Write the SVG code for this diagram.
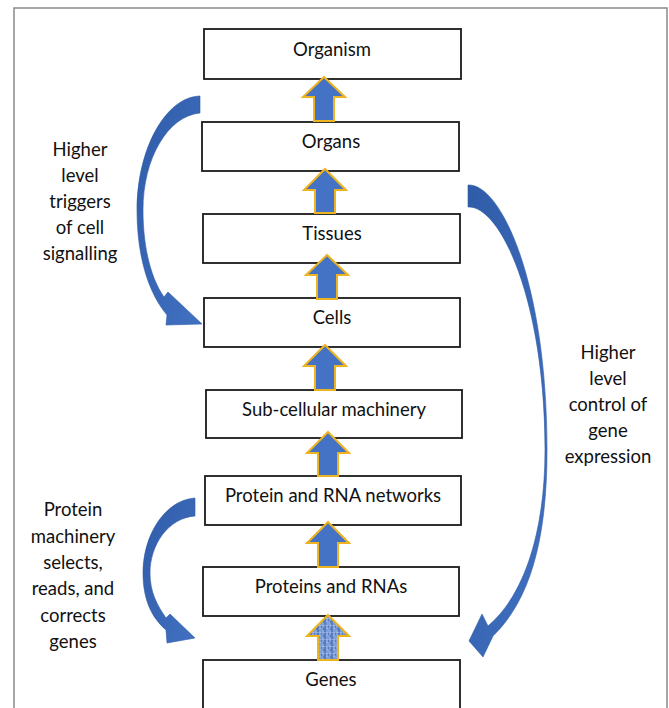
<svg xmlns="http://www.w3.org/2000/svg" width="669" height="708" viewBox="0 0 669 708">
<style>
  .box{fill:#ffffff;stroke:#1a1a1a;stroke-width:1.8}
  .lbl{font-family:Lato,"Liberation Sans",sans-serif;font-size:18.5px;fill:#111;text-anchor:middle}
  .up{fill:#4472C4;stroke:#EDB320;stroke-width:2;stroke-linejoin:miter}
  .curve{fill:url(#cg);stroke:#2E5AA6;stroke-width:0.6}
</style>
<defs>
  <linearGradient id="cg" x1="0" y1="0" x2="1" y2="1">
    <stop offset="0" stop-color="#2F5CA8"/>
    <stop offset="1" stop-color="#4271C2"/>
  </linearGradient>
  <pattern id="tex" patternUnits="userSpaceOnUse" width="7" height="7">
    <rect width="7" height="7" fill="#7E9ED8"/>
    <path d="M0,1 h4 M2,4 h5 M1,6 h3" stroke="#2F5CA8" stroke-width="1"/>
    <path d="M1,0 v3 M5,2 v4" stroke="#B8CAEE" stroke-width="1"/>
  </pattern>
</defs>
<rect x="0" y="0" width="669" height="708" fill="#ffffff"/>
<rect x="14" y="8" width="653" height="720" fill="none" stroke="#8a8a8a" stroke-width="1.5"/>

<g id="organism"><rect class="box" x="204" y="29" width="257" height="50"/><text class="lbl" x="332" y="56">Organism</text></g>
<g id="organs"><rect class="box" x="202" y="122" width="257" height="49"/><text class="lbl" x="331" y="148">Organs</text></g>
<g id="tissues"><rect class="box" x="203" y="214" width="257" height="49"/><text class="lbl" x="332" y="240">Tissues</text></g>
<g id="cells"><rect class="box" x="204" y="298" width="256" height="49"/><text class="lbl" x="332" y="324">Cells</text></g>
<g id="subcellular"><rect class="box" x="206" y="390" width="256" height="48"/><text class="lbl" x="334" y="416">Sub-cellular machinery</text></g>
<g id="networks"><rect class="box" x="205" y="476" width="256" height="49"/><text class="lbl" x="333" y="502">Protein and RNA networks</text></g>
<g id="proteins"><rect class="box" x="203" y="567" width="256" height="49"/><text class="lbl" x="331" y="593">Proteins and RNAs</text></g>
<g id="genes"><rect class="box" x="203" y="660" width="257" height="60"/><text class="lbl" x="331" y="686">Genes</text></g>

<g id="label-signalling">
  <text class="lbl" x="80" y="156">Higher</text>
  <text class="lbl" x="80" y="182">level</text>
  <text class="lbl" x="80" y="208">triggers</text>
  <text class="lbl" x="80" y="234">of cell</text>
  <text class="lbl" x="80" y="260">signalling</text>
</g>
<g id="label-expression">
  <text class="lbl" x="608" y="359">Higher</text>
  <text class="lbl" x="608" y="385">level</text>
  <text class="lbl" x="608" y="411">control of</text>
  <text class="lbl" x="608" y="437">gene</text>
  <text class="lbl" x="608" y="463">expression</text>
</g>
<g id="label-machinery">
  <text class="lbl" x="73" y="516">Protein</text>
  <text class="lbl" x="73" y="543">machinery</text>
  <text class="lbl" x="73" y="569">selects,</text>
  <text class="lbl" x="73" y="595">reads, and</text>
  <text class="lbl" x="73" y="622">corrects</text>
  <text class="lbl" x="73" y="648">genes</text>
</g>

<g id="connectors">
  <path class="up" d="M324,77 L345,97 L334,97 L334,121 L314,121 L314,97 L303,97 Z"/>
  <path class="up" d="M325,169 L346,190 L335,190 L335,213 L315,213 L315,190 L304,190 Z"/>
  <path class="up" d="M327,255 L348,275 L337,275 L337,299 L317,299 L317,275 L306,275 Z"/>
  <path class="up" d="M325,345 L346,366 L335,366 L335,390 L315,390 L315,366 L304,366 Z"/>
  <path class="up" d="M328,432 L349,453 L338,453 L338,476 L318,476 L318,453 L307,453 Z"/>
  <path class="up" d="M328,522 L349,543 L338,543 L338,567 L318,567 L318,543 L307,543 Z"/>
  <path class="up" d="M328,615 L349,636 L338,636 L338,660 L318,660 L318,636 L307,636 Z" style="fill:url(#tex)"/>

  <path class="curve" d="M200,96 C165,97 137,150 137,210 C137,260 150,295 167,315 L166,325 L202,324 L168,292 L164,297 C152,280 143,250 143,210 C143,158 168,116 200,113 Z"/>
  <path class="curve" d="M195,498 C165,500 143,535 143,573 C143,600 152,618 166,630 L167,643 L195,638 L170,614 L166,618 C157,605 150,592 150,573 C150,545 168,518 195,516 Z"/>
  <path class="curve" d="M468,185 C500,183 547,280 547,450 C547,540 530,600 493,636 L483,657 L469,641 L482,614 L488,626 C525,595 545,530 545,450 C545,300 500,205 468,207 Z"/>
</g>
</svg>
